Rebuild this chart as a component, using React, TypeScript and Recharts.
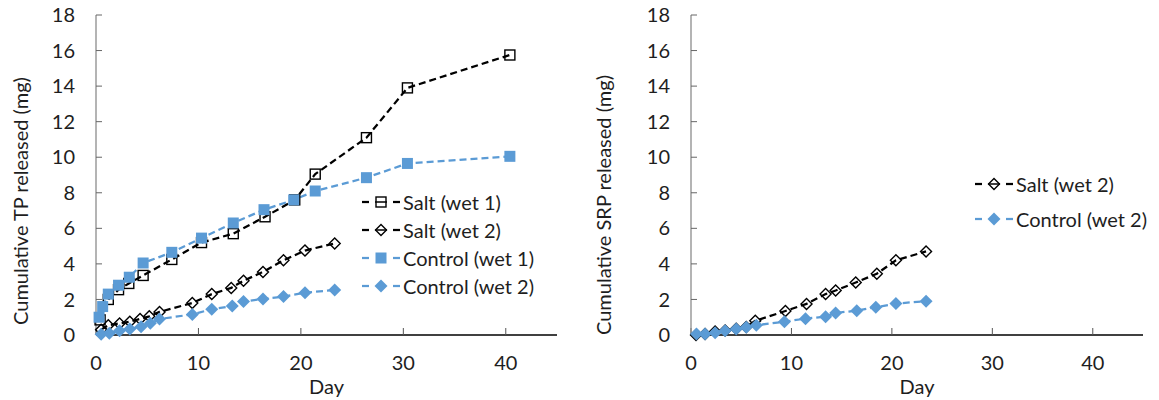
import { LineChart, Line, XAxis, YAxis, Legend } from "recharts";

const FONT = "Lato, 'Open Sans', sans-serif";
const FS = 20;
const TEXT = "#1e1e1e";
const BLUE = "#5B9BD5";
const BLACK = "#000000";
const DASH = "7 4";

const dayTicks = [0, 10, 20, 30, 40];
const mgTicks = [0, 2, 4, 6, 8, 10, 12, 14, 16, 18];

// left panel - cumulative TP
const tpSaltWet1Days = [0.4, 1.2, 2.2, 3.2, 4.6, 7.4, 10.3, 13.4, 16.5, 19.4, 21.4, 26.4, 30.4, 40.4];
const tpSaltWet1 = [0.85, 2.0, 2.55, 2.9, 3.35, 4.25, 5.2, 5.7, 6.65, 7.6, 9.05, 11.1, 13.9, 15.75];

const tpSaltWet2Days = [0.5, 1.2, 2.3, 3.3, 4.3, 5.2, 6.2, 9.4, 11.3, 13.2, 14.4, 16.3, 18.3, 20.4, 23.3];
const tpSaltWet2 = [0.3, 0.55, 0.65, 0.75, 0.9, 1.05, 1.3, 1.8, 2.3, 2.65, 3.05, 3.55, 4.2, 4.75, 5.15];

const tpControlWet1Days = [0.3, 0.65, 1.2, 2.2, 3.25, 4.6, 7.4, 10.3, 13.4, 16.4, 19.3, 21.4, 26.4, 30.4, 40.4];
const tpControlWet1 = [1.0, 1.6, 2.3, 2.8, 3.25, 4.05, 4.65, 5.45, 6.3, 7.05, 7.6, 8.1, 8.85, 9.65, 10.05];

const tpControlWet2Days = [0.5, 1.3, 2.3, 3.3, 4.4, 5.3, 6.2, 9.4, 11.3, 13.3, 14.4, 16.3, 18.3, 20.4, 23.3];
const tpControlWet2 = [0.04, 0.1, 0.24, 0.34, 0.47, 0.66, 0.9, 1.16, 1.45, 1.63, 1.88, 2.03, 2.16, 2.38, 2.53];

// right panel - cumulative SRP
const srpSaltWet2Days = [0.5, 1.4, 2.4, 3.4, 4.5, 5.5, 6.4, 9.4, 11.5, 13.4, 14.4, 16.4, 18.5, 20.4, 23.4];
const srpSaltWet2 = [0.0, 0.05, 0.2, 0.25, 0.35, 0.45, 0.8, 1.35, 1.75, 2.3, 2.5, 2.95, 3.45, 4.2, 4.7];

const srpControlWet2Days = [0.55, 1.4, 2.4, 3.4, 4.5, 5.5, 6.5, 9.3, 11.4, 13.4, 14.4, 16.5, 18.4, 20.4, 23.4];
const srpControlWet2 = [0.05, 0.05, 0.13, 0.24, 0.34, 0.43, 0.55, 0.75, 0.92, 1.03, 1.24, 1.37, 1.56, 1.77, 1.9];

const pts = (days: number[], mg: number[]) => days.map((d, i) => ({ day: d, mg: mg[i] }));

type Series = {
  name: string;
  data: { day: number; mg: number }[];
  color: string;
  shape: "square" | "diamond";
  filled: boolean;
  size: number;
};

const tpSeries: Series[] = [
  { name: "Salt (wet 1)", data: pts(tpSaltWet1Days, tpSaltWet1), color: BLACK, shape: "square", filled: false, size: 10 },
  { name: "Salt (wet 2)", data: pts(tpSaltWet2Days, tpSaltWet2), color: BLACK, shape: "diamond", filled: false, size: 11 },
  { name: "Control (wet 1)", data: pts(tpControlWet1Days, tpControlWet1), color: BLUE, shape: "square", filled: true, size: 11 },
  { name: "Control (wet 2)", data: pts(tpControlWet2Days, tpControlWet2), color: BLUE, shape: "diamond", filled: true, size: 13 },
];

const srpSeries: Series[] = [
  { name: "Salt (wet 2)", data: pts(srpSaltWet2Days, srpSaltWet2), color: BLACK, shape: "diamond", filled: false, size: 11 },
  { name: "Control (wet 2)", data: pts(srpControlWet2Days, srpControlWet2), color: BLUE, shape: "diamond", filled: true, size: 13 },
];

function Marker({ cx, cy, s }: any) {
  if (cx == null || cy == null) return null;
  const fill = s.filled ? s.color : "none";
  const sw = s.filled ? 0 : 1.4;
  if (s.shape === "square") {
    return (
      <rect x={cx - s.size / 2} y={cy - s.size / 2} width={s.size} height={s.size}
        fill={fill} stroke={s.color} strokeWidth={sw} />
    );
  }
  const r = s.size / 2;
  return (
    <polygon points={`${cx},${cy - r} ${cx + r},${cy} ${cx},${cy + r} ${cx - r},${cy}`}
      fill={fill} stroke={s.color} strokeWidth={sw} />
  );
}

function LegendBox({ items, rowH }: { items: Series[]; rowH: number }) {
  return (
    <div style={{ fontFamily: FONT, fontSize: FS, color: TEXT }}>
      {items.map((s) => (
        <div key={s.name} style={{ display: "flex", alignItems: "center", height: rowH }}>
          <svg width={38} height={16} style={{ display: "block" }}>
            <line x1={0} y1={8} x2={7} y2={8} stroke={s.color} strokeWidth={2.25} />
            <line x1={31} y1={8} x2={38} y2={8} stroke={s.color} strokeWidth={2.25} />
            {!s.filled && <line x1={13} y1={8} x2={25} y2={8} stroke={s.color} strokeWidth={1.5} />}
            <Marker cx={19} cy={8} s={s} />
          </svg>
          <span style={{ marginLeft: 3, whiteSpace: "nowrap" }}>{s.name}</span>
        </div>
      ))}
    </div>
  );
}

const tickStyle = { fontFamily: FONT, fontSize: FS, fill: TEXT };

function Panel({ series, yTitle, yAxisW, rightM, titleX, titleY, legendLeft, legendTop, rowH, width }: any) {
  return (
    <LineChart width={width} height={400} margin={{ top: 15, right: rightM, bottom: 0, left: 0 }}>
      <XAxis
        type="number"
        dataKey="day"
        domain={[0, 45]}
        ticks={dayTicks}
        allowDuplicatedCategory={false}
        height={65}
        tickSize={-7}
        tickMargin={28}
        tick={tickStyle}
        stroke={BLACK}
        axisLine={{ stroke: BLACK, strokeWidth: 1.3 }}
        tickLine={{ stroke: "#555" }}
        label={{ value: "Day", position: "insideBottom", offset: 6, style: { fontFamily: FONT, fontSize: FS, fill: TEXT } }}
      />
      <YAxis
        type="number"
        domain={[0, 18]}
        ticks={mgTicks}
        width={yAxisW}
        tickSize={-6}
        tickMargin={27}
        tick={tickStyle}
        axisLine={{ stroke: "#8c8c8c", strokeWidth: 1.3 }}
        tickLine={{ stroke: "#666" }}
        label={{
          value: yTitle,
          content: () => (
            <text
              x={titleX}
              y={titleY}
              transform={`rotate(-90 ${titleX} ${titleY})`}
              textAnchor="middle"
              dominantBaseline="central"
              style={{ fontFamily: FONT, fontSize: FS, fill: TEXT }}
            >
              {yTitle}
            </text>
          ),
        }}
      />
      {series.map((s: Series) => (
        <Line
          key={s.name}
          name={s.name}
          data={s.data}
          dataKey="mg"
          type="linear"
          stroke={s.color}
          strokeWidth={2.25}
          strokeDasharray={DASH}
          isAnimationActive={false}
          dot={(p: any) => <Marker key={`${s.name}-${p.index}`} cx={p.cx} cy={p.cy} s={s} />}
          activeDot={false}
        />
      ))}
      <Legend
        layout="vertical"
        align="center"
        verticalAlign="middle"
        wrapperStyle={{ left: legendLeft, top: legendTop, width: "auto", height: "auto" }}
        content={() => <LegendBox items={series} rowH={rowH} />}
      />
    </LineChart>
  );
}

export default function App() {
  return (
    <div style={{ position: "absolute", left: 0, top: 0, width: 1159, height: 400, background: "#fff", display: "flex" }}>
      <Panel
        width={580}
        series={tpSeries}
        yTitle="Cumulative TP released (mg)"
        yAxisW={96}
        rightM={23}
        titleX={20}
        titleY={201}
        legendLeft={362}
        legendTop={188}
        rowH={28}
      />
      <Panel
        width={579}
        series={srpSeries}
        yTitle="Cumulative SRP released (mg)"
        yAxisW={111}
        rightM={16}
        titleX={23}
        titleY={205}
        legendLeft={395}
        legendTop={166}
        rowH={35}
      />
    </div>
  );
}
